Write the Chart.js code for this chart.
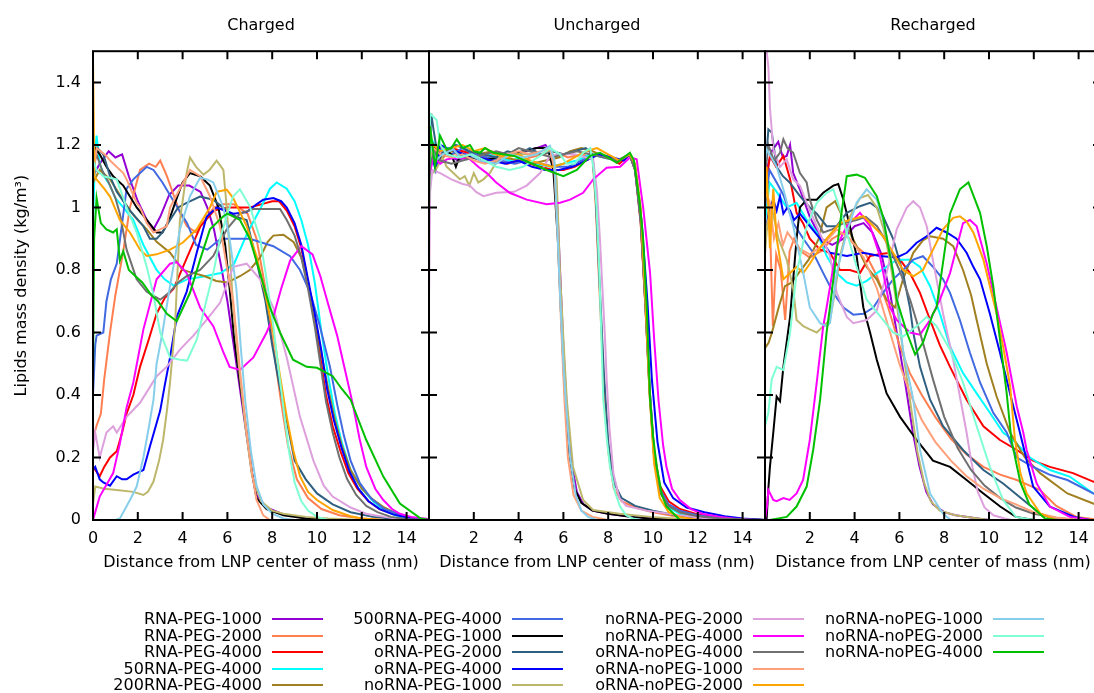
<!DOCTYPE html>
<html>
<head>
<meta charset="utf-8">
<title>Lipids mass density profiles</title>
<script src="https://cdn.jsdelivr.net/npm/chart.js@4.4.1/dist/chart.umd.min.js"></script>
<style>
  body { margin: 0; width: 1094px; height: 693px; overflow: hidden; background: #fff; position: relative;
         font-family: "DejaVu Sans", sans-serif; }
  canvas { position: absolute; top: 0; }
  #legend { position: absolute; left: 0; top: 0; width: 1094px; height: 693px; }
  #legend .name { position: absolute; left: 0; text-align: right; font-size: 16px; line-height: 18px; color: #000; white-space: nowrap; }
  #legend .swatch { position: absolute; height: 2px; width: 51px; }
</style>
</head>
<body>
<canvas id="charged" width="440" height="600" style="left:0px"></canvas>
<canvas id="uncharged" width="360" height="600" style="left:420px"></canvas>
<canvas id="recharged" width="360" height="600" style="left:756px"></canvas>
<div id="legend"></div>
<script>
// series, in plotting order
const seriesNames = [
  "RNA-PEG-1000", "RNA-PEG-2000", "RNA-PEG-4000", "50RNA-PEG-4000", "200RNA-PEG-4000",
  "500RNA-PEG-4000", "oRNA-PEG-1000", "oRNA-PEG-2000", "oRNA-PEG-4000", "noRNA-PEG-1000",
  "noRNA-PEG-2000", "noRNA-PEG-4000", "oRNA-noPEG-4000", "oRNA-noPEG-1000", "oRNA-noPEG-2000",
  "noRNA-noPEG-1000", "noRNA-noPEG-2000", "noRNA-noPEG-4000"
];
const seriesColors = [
  "#9400d3", "#ff7f50", "#ff0000", "#00ffff", "#a08020",
  "#4169e1", "#000000", "#306080", "#0000ff", "#bdb76b",
  "#dda0dd", "#ff00ff", "#707070", "#ffa07a", "#ffa500",
  "#87ceeb", "#7fffd4", "#00c000"
];

const panelTitles = ["Charged", "Uncharged", "Recharged"];
const xTicksFirst = [0, 2, 4, 6, 8, 10, 12, 14];
const xTicksOther = [2, 4, 6, 8, 10, 12, 14];
const yTicks = [0, 0.2, 0.4, 0.6, 0.8, 1.0, 1.2, 1.4];

// [distance nm, density kg/m3] per series
const charged = [
  [[0,1.10],[0.3,1.14],[0.7,1.18],[1.0,1.16],[1.3,1.17],[1.6,1.10],[2.0,1.02],[2.4,0.96],[2.7,0.93],[3.0,0.97],[3.4,1.04],[3.8,1.07],[4.3,1.07],[4.8,1.05],[5.1,1.00],[5.4,0.93],[5.7,0.82],[6.0,0.70],[6.3,0.55],[6.56,0.42],[6.86,0.27],[7.1,0.15],[7.3,0.08],[7.75,0.04],[8.5,0.018],[9.5,0.006],[11,0],[15,0]],
  [[0,0.26],[0.15,0.30],[0.35,0.34],[0.5,0.45],[0.76,0.60],[1.0,0.72],[1.35,0.86],[1.65,1.00],[2.1,1.12],[2.5,1.14],[2.8,1.13],[3.0,1.15],[3.3,1.10],[3.6,1.04],[3.9,0.98],[4.2,0.94],[4.6,0.92],[5.0,0.96],[5.4,1.00],[5.8,1.01],[6.3,1.01],[6.9,0.98],[7.3,0.90],[7.7,0.74],[8.0,0.58],[8.35,0.40],[8.7,0.24],[9.1,0.13],[9.6,0.07],[10.2,0.035],[11,0.015],[12,0.005],[13,0],[15,0]],
  [[0,0.17],[0.3,0.14],[0.5,0.17],[0.76,0.20],[1.06,0.22],[1.3,0.28],[1.5,0.34],[1.8,0.40],[2.1,0.49],[2.5,0.58],[2.84,0.66],[3.2,0.71],[3.6,0.74],[4.2,0.84],[4.8,0.94],[5.4,0.99],[6.0,1.00],[6.6,1.00],[7.0,1.00],[7.5,1.01],[8.0,1.02],[8.3,1.02],[8.65,0.99],[9.0,0.94],[9.3,0.87],[9.6,0.76],[9.9,0.64],[10.15,0.52],[10.4,0.40],[10.7,0.30],[11.05,0.22],[11.4,0.15],[11.8,0.10],[12.3,0.06],[12.8,0.035],[13.4,0.018],[14,0.008],[15,0]],
  [[0,0.95],[0.1,1.18],[0.16,1.23],[0.3,1.14],[0.5,1.10],[0.76,1.07],[1.0,1.03],[1.35,1.00],[1.8,0.96],[2.25,0.88],[2.84,0.80],[3.2,0.77],[3.6,0.75],[4.2,0.77],[5.0,0.78],[5.7,0.79],[6.3,0.82],[6.9,0.92],[7.5,1.00],[7.9,1.06],[8.2,1.08],[8.65,1.06],[9.0,1.02],[9.3,0.96],[9.6,0.88],[9.9,0.76],[10.2,0.60],[10.5,0.46],[10.8,0.34],[11.1,0.25],[11.5,0.16],[12.0,0.10],[12.5,0.06],[13.0,0.03],[13.5,0.015],[14,0.005],[15,0]],
  [[0,1.08],[0.3,1.12],[0.76,1.09],[1.2,1.04],[1.65,0.99],[2.0,0.96],[2.4,0.93],[2.84,0.89],[3.44,0.855],[4.0,0.80],[4.5,0.79],[5.0,0.78],[5.5,0.765],[6.0,0.76],[6.56,0.78],[7.0,0.80],[7.46,0.84],[7.8,0.89],[8.05,0.91],[8.5,0.913],[8.95,0.89],[9.3,0.84],[9.6,0.76],[9.9,0.65],[10.2,0.53],[10.5,0.42],[10.8,0.32],[11.1,0.24],[11.5,0.16],[12.0,0.10],[12.5,0.065],[13.0,0.04],[13.5,0.022],[14,0.01],[15,0]],
  [[0,0.40],[0.1,0.56],[0.16,0.59],[0.46,0.60],[0.6,0.70],[0.8,0.77],[1.06,0.82],[1.3,0.95],[1.5,1.06],[1.8,1.09],[2.1,1.11],[2.4,1.13],[2.7,1.12],[3.1,1.08],[3.6,1.02],[4.2,0.95],[4.6,0.88],[5.1,0.865],[5.7,0.90],[6.3,0.90],[7.0,0.90],[8.05,0.876],[8.8,0.844],[9.24,0.80],[9.7,0.727],[10.13,0.62],[10.58,0.49],[10.9,0.37],[11.2,0.27],[11.5,0.19],[11.9,0.12],[12.4,0.07],[13.0,0.035],[14,0.01],[15,0]],
  [[0,1.20],[0.3,1.17],[0.6,1.13],[0.9,1.10],[1.35,1.07],[1.95,1.00],[2.4,0.96],[2.84,0.92],[3.1,0.92],[3.4,0.96],[3.74,1.03],[4.0,1.08],[4.33,1.11],[4.78,1.10],[5.22,1.07],[5.6,1.00],[5.9,0.88],[6.1,0.74],[6.3,0.58],[6.56,0.44],[6.86,0.28],[7.1,0.15],[7.3,0.07],[7.75,0.035],[8.5,0.015],[9.5,0.005],[11,0],[15,0]],
  [[0,1.15],[0.2,1.19],[0.46,1.17],[0.76,1.10],[1.06,1.05],[1.65,0.99],[2.25,0.94],[2.54,0.90],[2.84,0.90],[3.1,0.92],[3.44,0.96],[3.8,1.00],[4.18,1.015],[4.78,1.035],[5.37,1.025],[5.97,0.99],[6.4,0.97],[6.86,0.96],[7.3,0.83],[7.7,0.70],[8.0,0.56],[8.3,0.44],[8.7,0.30],[9.0,0.19],[9.5,0.13],[10.0,0.085],[10.7,0.05],[11.5,0.025],[12.5,0.01],[14,0],[15,0]],
  [[0,0.16],[0.1,0.17],[0.3,0.13],[0.46,0.12],[0.76,0.11],[1.06,0.14],[1.3,0.13],[1.5,0.13],[1.8,0.145],[2.25,0.16],[2.54,0.235],[2.8,0.30],[3.0,0.35],[3.2,0.43],[3.44,0.52],[3.74,0.65],[4.18,0.73],[4.63,0.855],[5.07,0.97],[5.52,1.00],[6.26,0.98],[6.86,0.985],[7.3,1.01],[7.6,1.025],[8.05,1.03],[8.4,1.02],[8.65,1.00],[9.0,0.95],[9.3,0.88],[9.6,0.77],[9.9,0.66],[10.2,0.54],[10.45,0.42],[10.75,0.32],[11.1,0.23],[11.45,0.155],[11.85,0.10],[12.3,0.06],[12.8,0.035],[13.4,0.018],[14,0.008],[15,0]],
  [[0,0.05],[0.1,0.107],[0.5,0.10],[1.06,0.096],[1.8,0.09],[2.25,0.08],[2.45,0.09],[2.7,0.123],[2.95,0.19],[3.13,0.256],[3.3,0.35],[3.44,0.44],[3.66,0.62],[3.88,0.96],[4.18,1.11],[4.33,1.16],[4.6,1.13],[4.93,1.105],[5.2,1.12],[5.52,1.15],[5.82,1.12],[5.97,1.00],[6.1,0.86],[6.26,0.68],[6.5,0.50],[6.8,0.30],[7.1,0.14],[7.5,0.06],[8.0,0.03],[8.5,0.02],[9.5,0.01],[10.5,0.005],[12,0],[15,0]],
  [[0,0.22],[0.1,0.28],[0.3,0.20],[0.6,0.28],[0.9,0.30],[1.06,0.28],[1.5,0.33],[2.1,0.375],[2.84,0.46],[3.29,0.49],[3.88,0.545],[4.48,0.59],[5.07,0.64],[5.67,0.695],[6.0,0.76],[6.26,0.81],[6.86,0.82],[7.46,0.77],[8.05,0.68],[8.65,0.52],[9.24,0.33],[9.84,0.19],[10.3,0.11],[10.7,0.075],[11.5,0.04],[12.2,0.02],[13,0.01],[14,0],[15,0]],
  [[0,0],[0.3,0.075],[0.9,0.15],[1.2,0.245],[1.5,0.36],[1.8,0.44],[2.25,0.61],[2.84,0.77],[3.44,0.82],[3.74,0.825],[4.18,0.79],[4.78,0.68],[5.37,0.62],[5.8,0.54],[6.1,0.49],[6.56,0.48],[7.16,0.52],[7.75,0.60],[8.05,0.65],[8.4,0.74],[8.8,0.83],[9.3,0.876],[9.8,0.85],[10.15,0.78],[10.5,0.69],[10.9,0.59],[11.25,0.48],[11.6,0.37],[11.9,0.26],[12.2,0.17],[12.6,0.10],[12.96,0.064],[13.35,0.035],[13.7,0.02],[14.2,0.01],[15,0.003]],
  [[0,1.12],[0.16,1.17],[0.4,1.12],[0.7,1.08],[1.0,1.03],[1.2,0.98],[1.5,0.865],[1.95,0.77],[2.4,0.73],[3.0,0.705],[3.44,0.73],[3.8,0.76],[4.18,0.78],[4.78,0.80],[5.37,0.845],[5.97,0.93],[6.56,0.98],[7.16,0.995],[8.35,0.995],[8.65,0.96],[9.0,0.91],[9.3,0.84],[9.6,0.74],[9.9,0.62],[10.15,0.50],[10.4,0.38],[10.7,0.28],[11.0,0.20],[11.35,0.13],[11.75,0.08],[12.2,0.045],[12.7,0.025],[13.3,0.01],[14,0.003],[15,0]],
  [[0,1.10],[0.16,1.19],[0.6,1.165],[0.76,1.15],[1.35,1.11],[1.5,1.09],[1.95,1.015],[2.1,1.00],[2.4,0.95],[2.7,0.92],[3.0,0.93],[3.29,0.94],[3.44,1.00],[3.88,1.06],[4.33,1.12],[4.78,1.10],[5.22,1.036],[5.67,0.94],[6.0,0.80],[6.26,0.70],[6.56,0.48],[6.86,0.28],[7.1,0.15],[7.3,0.064],[7.6,0.015],[7.9,0],[15,0]],
  [[0,1.48],[0.06,1.10],[0.16,1.09],[0.5,1.06],[0.76,1.035],[1.2,0.96],[1.65,0.92],[2.1,0.865],[2.4,0.845],[2.84,0.85],[3.44,0.865],[4.0,0.887],[4.63,0.93],[5.22,1.00],[5.52,1.05],[5.97,1.057],[6.26,1.03],[6.86,0.94],[7.3,0.845],[7.7,0.72],[8.05,0.60],[8.35,0.46],[8.65,0.33],[8.95,0.22],[9.24,0.14],[9.6,0.09],[10.0,0.064],[10.7,0.032],[11.5,0.012],[12,0.005],[13,0],[15,0]],
  [[0,0],[1.0,0],[1.2,0.005],[1.65,0.064],[1.95,0.107],[2.25,0.20],[2.5,0.30],[2.7,0.385],[2.84,0.50],[3.1,0.60],[3.44,0.75],[3.88,0.93],[4.33,1.036],[4.78,1.095],[5.1,1.09],[5.37,1.08],[5.82,1.00],[6.1,0.90],[6.4,0.74],[6.6,0.55],[6.8,0.38],[7.05,0.22],[7.3,0.11],[7.6,0.05],[8.0,0.02],[8.5,0.005],[9,0],[15,0]],
  [[0,1.15],[0.16,1.12],[0.46,1.10],[1.06,1.09],[1.5,1.00],[1.95,0.92],[2.4,0.81],[2.7,0.72],[3.0,0.60],[3.44,0.52],[3.88,0.513],[4.2,0.51],[4.63,0.577],[5.07,0.705],[5.4,0.80],[5.67,0.90],[6.0,0.98],[6.26,1.036],[6.56,1.058],[7.0,1.004],[7.46,0.90],[7.75,0.77],[8.05,0.62],[8.27,0.49],[8.5,0.36],[8.75,0.22],[9.0,0.12],[9.3,0.06],[9.6,0.03],[10,0.01],[10.5,0],[15,0]],
  [[0,0.45],[0.05,0.90],[0.16,1.03],[0.35,0.95],[0.6,0.93],[0.9,0.92],[1.06,0.93],[1.2,0.83],[1.35,0.86],[1.6,0.80],[1.9,0.78],[2.2,0.76],[2.6,0.72],[2.9,0.70],[3.3,0.66],[3.74,0.636],[4.33,0.727],[4.78,0.833],[5.22,0.93],[5.82,0.972],[6.0,0.98],[6.56,0.96],[7.0,0.90],[7.46,0.79],[7.9,0.68],[8.35,0.60],[8.93,0.513],[9.54,0.49],[10.0,0.487],[10.7,0.46],[11.1,0.42],[11.5,0.385],[12.2,0.256],[12.96,0.139],[13.7,0.053],[14.6,0.006],[15,0]]
];

const uncharged = [
  [[0,1.10],[0.15,1.20],[0.4,1.15],[0.8,1.17],[1.3,1.15],[1.8,1.17],[2.3,1.15],[2.8,1.14],[3.3,1.16],[3.8,1.17],[4.3,1.18],[4.8,1.19],[5.2,1.20],[5.5,1.17],[5.7,1.05],[5.85,0.80],[6.0,0.55],[6.15,0.36],[6.35,0.19],[6.6,0.09],[6.9,0.05],[7.3,0.03],[8,0.02],[9,0.01],[10,0.005],[11,0],[15,0]],
  [[0,1.20],[0.2,1.17],[0.6,1.19],[1.0,1.17],[1.6,1.18],[2.2,1.16],[2.8,1.17],[3.3,1.16],[3.9,1.14],[4.5,1.16],[5.1,1.17],[5.6,1.18],[6.2,1.16],[6.8,1.17],[7.3,1.16],[7.45,1.00],[7.6,0.75],[7.8,0.45],[8.0,0.22],[8.25,0.10],[8.6,0.06],[9.2,0.04],[10,0.025],[11,0.012],[12.5,0.004],[14,0],[15,0]],
  [[0,1.15],[0.2,1.20],[0.5,1.17],[1.0,1.19],[1.5,1.18],[2.0,1.17],[2.5,1.16],[3.0,1.15],[3.5,1.14],[4.0,1.15],[4.5,1.14],[5.0,1.13],[5.5,1.12],[6.0,1.12],[6.5,1.13],[7.0,1.15],[7.5,1.17],[8.0,1.16],[8.5,1.14],[8.95,1.17],[9.2,1.12],[9.45,0.95],[9.65,0.70],[9.85,0.42],[10.05,0.22],[10.3,0.11],[10.7,0.06],[11.2,0.035],[12,0.018],[13,0.008],[14,0.003],[15,0]],
  [[0,1.12],[0.1,1.22],[0.4,1.18],[0.9,1.19],[1.4,1.20],[2.0,1.18],[2.6,1.17],[3.1,1.16],[3.6,1.15],[4.2,1.16],[4.8,1.14],[5.4,1.13],[6.0,1.14],[6.6,1.15],[7.2,1.17],[7.8,1.16],[8.4,1.15],[8.95,1.17],[9.2,1.13],[9.45,0.98],[9.65,0.72],[9.85,0.42],[10.05,0.20],[10.3,0.09],[10.7,0.04],[11.2,0.02],[12,0.01],[13,0.004],[15,0]],
  [[0,1.10],[0.2,1.18],[0.6,1.16],[1.0,1.18],[1.6,1.16],[2.2,1.17],[2.8,1.18],[3.4,1.16],[4.0,1.15],[4.6,1.14],[5.2,1.15],[5.8,1.16],[6.3,1.18],[6.8,1.19],[7.3,1.18],[7.9,1.16],[8.4,1.15],[8.95,1.17],[9.2,1.12],[9.45,0.96],[9.65,0.70],[9.85,0.40],[10.05,0.20],[10.3,0.09],[10.7,0.045],[11.2,0.025],[12,0.012],[13,0.005],[15,0]],
  [[0,1.15],[0.2,1.20],[0.5,1.18],[1.0,1.17],[1.5,1.19],[2.0,1.17],[2.6,1.16],[3.2,1.15],[3.8,1.14],[4.4,1.15],[5.0,1.14],[5.6,1.13],[6.2,1.13],[6.8,1.15],[7.4,1.17],[8.0,1.16],[8.5,1.15],[8.95,1.17],[9.2,1.12],[9.45,0.96],[9.65,0.71],[9.85,0.42],[10.05,0.21],[10.3,0.10],[10.7,0.05],[11.2,0.03],[12,0.015],[13,0.006],[15,0]],
  [[0,1.12],[0.2,1.20],[0.5,1.16],[0.8,1.18],[1.0,1.17],[1.2,1.13],[1.4,1.17],[1.9,1.16],[2.5,1.15],[3.0,1.16],[3.6,1.17],[4.2,1.18],[4.8,1.19],[5.3,1.19],[5.55,1.12],[5.75,0.90],[5.9,0.65],[6.05,0.42],[6.25,0.22],[6.5,0.10],[6.8,0.055],[7.3,0.03],[8,0.02],[9,0.01],[10,0.004],[11,0],[15,0]],
  [[0,1.15],[0.1,1.30],[0.2,1.25],[0.4,1.16],[0.7,1.18],[1.2,1.20],[1.8,1.18],[2.4,1.17],[3.0,1.16],[3.5,1.18],[4.0,1.17],[4.5,1.19],[5.0,1.17],[5.5,1.18],[6.0,1.17],[6.5,1.18],[7.0,1.19],[7.3,1.17],[7.45,1.02],[7.6,0.78],[7.8,0.48],[8.0,0.25],[8.25,0.12],[8.6,0.07],[9.2,0.045],[10,0.03],[11,0.015],[12.5,0.005],[14,0],[15,0]],
  [[0,1.08],[0.1,1.17],[0.3,1.12],[0.5,1.20],[0.8,1.19],[1.2,1.18],[1.6,1.17],[2.2,1.16],[2.8,1.15],[3.4,1.14],[4.0,1.15],[4.6,1.13],[5.2,1.12],[5.8,1.12],[6.4,1.13],[7.0,1.15],[7.6,1.17],[8.2,1.16],[8.7,1.15],[8.95,1.17],[9.2,1.13],[9.5,0.95],[9.75,0.70],[9.95,0.45],[10.2,0.25],[10.5,0.12],[10.9,0.07],[11.5,0.04],[12.3,0.025],[13.2,0.012],[14,0.005],[15,0]],
  [[0,1.10],[0.3,1.12],[0.6,1.16],[0.79,1.13],[1.09,1.11],[1.38,1.09],[1.6,1.10],[1.8,1.07],[2.0,1.11],[2.2,1.08],[2.43,1.09],[2.72,1.11],[3.17,1.165],[3.8,1.17],[4.4,1.17],[5.0,1.17],[5.48,1.186],[5.6,1.14],[5.7,1.09],[5.85,0.79],[6.0,0.58],[6.15,0.385],[6.43,0.17],[6.88,0.064],[7.33,0.032],[8.5,0.02],[9.9,0.01],[12,0],[15,0]],
  [[0,0.70],[0.05,1.05],[0.15,1.12],[0.5,1.11],[1.0,1.09],[1.5,1.075],[1.83,1.07],[2.1,1.05],[2.43,1.036],[3.0,1.047],[3.8,1.05],[4.36,1.07],[4.96,1.11],[5.4,1.165],[5.85,1.17],[6.5,1.17],[7.0,1.16],[7.33,1.154],[7.5,1.05],[7.63,0.90],[7.86,0.577],[7.93,0.45],[8.05,0.30],[8.23,0.15],[8.5,0.07],[8.8,0.045],[9.7,0.03],[11.2,0.015],[13,0],[15,0]],
  [[0,1.10],[0.2,1.16],[0.5,1.14],[0.79,1.154],[1.3,1.16],[1.83,1.154],[2.2,1.13],[2.58,1.11],[3.0,1.08],[3.6,1.047],[4.36,1.025],[5.25,1.01],[5.85,1.015],[6.3,1.025],[6.88,1.047],[7.33,1.09],[7.93,1.127],[8.53,1.13],[8.97,1.16],[9.27,1.154],[9.56,1.00],[9.87,0.79],[10.05,0.58],[10.25,0.38],[10.45,0.24],[10.6,0.17],[10.85,0.10],[11.2,0.064],[11.7,0.035],[12.2,0.02],[13,0.01],[13.6,0.005],[14.5,0],[15,0]],
  [[0,1.12],[0.2,1.18],[0.5,1.15],[1.0,1.14],[1.5,1.15],[2.0,1.16],[2.5,1.17],[3.0,1.18],[3.5,1.17],[4.0,1.19],[4.5,1.18],[5.0,1.17],[5.5,1.16],[6.0,1.17],[6.6,1.18],[7.2,1.17],[7.8,1.16],[8.4,1.15],[8.95,1.17],[9.2,1.12],[9.45,0.96],[9.65,0.70],[9.85,0.41],[10.05,0.20],[10.3,0.09],[10.7,0.045],[11.2,0.025],[12,0.012],[13,0.005],[15,0]],
  [[0,1.15],[0.2,1.19],[0.5,1.17],[1.0,1.16],[1.5,1.17],[2.0,1.15],[2.5,1.14],[3.0,1.15],[3.5,1.17],[4.0,1.18],[4.5,1.17],[5.0,1.18],[5.4,1.19],[5.6,1.12],[5.75,0.90],[5.9,0.62],[6.05,0.38],[6.2,0.20],[6.45,0.08],[6.8,0.03],[7.3,0.01],[8,0],[15,0]],
  [[0,1.15],[0.2,1.20],[0.5,1.18],[1.0,1.19],[1.5,1.20],[2.0,1.18],[2.5,1.19],[3.0,1.17],[3.5,1.16],[4.0,1.17],[4.5,1.15],[5.0,1.14],[5.5,1.13],[6.0,1.14],[6.5,1.16],[7.0,1.18],[7.5,1.19],[8.0,1.17],[8.5,1.15],[8.95,1.17],[9.2,1.14],[9.45,1.00],[9.65,0.72],[9.85,0.40],[10.05,0.18],[10.3,0.07],[10.7,0.025],[11.2,0.01],[12,0],[15,0]],
  [[0,1.12],[0.1,1.20],[0.3,1.15],[0.6,1.17],[1.09,1.186],[1.4,1.16],[1.8,1.17],[2.3,1.15],[3.0,1.14],[3.6,1.17],[4.2,1.16],[4.8,1.17],[5.4,1.197],[5.6,1.15],[5.72,0.95],[5.85,0.72],[6.0,0.50],[6.1,0.385],[6.3,0.20],[6.55,0.08],[6.8,0.03],[7.1,0.01],[7.5,0],[15,0]],
  [[0,1.15],[0.05,1.30],[0.34,1.28],[0.5,1.20],[0.8,1.17],[1.3,1.16],[1.9,1.17],[2.5,1.15],[3.0,1.13],[3.6,1.12],[4.2,1.13],[4.96,1.165],[5.4,1.19],[5.85,1.17],[6.15,1.14],[6.5,1.14],[6.88,1.175],[7.2,1.19],[7.35,1.12],[7.48,1.00],[7.6,0.80],[7.7,0.577],[7.78,0.385],[7.95,0.25],[8.08,0.17],[8.3,0.09],[8.53,0.043],[8.8,0.015],[9.1,0.005],[9.5,0],[15,0]],
  [[0,1.00],[0.05,1.26],[0.27,1.13],[0.49,1.23],[0.79,1.186],[1.0,1.19],[1.24,1.218],[1.5,1.19],[1.83,1.20],[2.0,1.18],[2.28,1.175],[2.5,1.19],[2.87,1.175],[3.3,1.17],[3.8,1.165],[4.5,1.143],[5.25,1.12],[6.0,1.10],[6.6,1.12],[7.19,1.165],[7.63,1.175],[8.0,1.16],[8.38,1.143],[8.97,1.175],[9.15,1.15],[9.4,1.02],[9.56,0.90],[9.72,0.68],[9.87,0.385],[10.0,0.27],[10.17,0.17],[10.4,0.08],[10.6,0.043],[11.2,0],[15,0]]
];

const recharged = [
  [[0,1.10],[0.3,1.18],[0.59,1.21],[0.8,1.16],[0.97,1.165],[1.12,1.20],[1.26,1.11],[1.6,1.05],[2.0,0.97],[2.5,0.90],[3.0,0.88],[3.5,0.90],[4.0,0.94],[4.4,0.95],[4.8,0.92],[5.2,0.85],[5.6,0.72],[6.0,0.55],[6.3,0.42],[6.6,0.28],[6.9,0.17],[7.2,0.09],[7.5,0.05],[8.0,0.025],[8.5,0.015],[9.5,0.005],[10,0],[15,0]],
  [[0,0.90],[0.2,1.00],[0.35,0.62],[0.5,0.85],[0.7,0.80],[0.9,0.64],[1.1,0.86],[1.3,0.90],[1.6,0.86],[2.0,0.84],[2.5,0.86],[3.0,0.90],[3.5,0.92],[4.0,0.88],[4.5,0.85],[5.0,0.78],[5.5,0.68],[6.0,0.56],[6.47,0.47],[7.0,0.40],[7.6,0.33],[8.3,0.26],[9.0,0.21],[9.75,0.17],[10.5,0.145],[11.24,0.128],[12.28,0.096],[13.0,0.045],[13.9,0.01],[15,0]],
  [[0,1.05],[0.22,1.165],[0.5,1.13],[0.82,1.165],[1.12,1.09],[1.41,0.983],[1.7,0.95],[2.0,0.90],[2.46,0.865],[2.9,0.855],[3.35,0.80],[3.79,0.80],[4.24,0.79],[4.69,0.845],[5.1,0.85],[5.58,0.855],[6.03,0.833],[6.47,0.79],[6.92,0.727],[7.37,0.64],[7.8,0.56],[8.26,0.49],[9.0,0.385],[9.75,0.30],[10.49,0.256],[11.24,0.224],[11.97,0.19],[12.72,0.17],[13.75,0.15],[14.65,0.123],[15,0.115]],
  [[0,0.95],[0.2,1.08],[0.52,1.05],[0.97,1.00],[1.41,1.015],[1.86,0.96],[2.31,0.92],[2.75,0.845],[3.2,0.79],[3.65,0.76],[4.09,0.75],[4.54,0.765],[4.99,0.79],[5.43,0.81],[5.88,0.833],[6.47,0.833],[6.92,0.81],[7.37,0.748],[7.81,0.66],[8.26,0.555],[8.84,0.47],[9.45,0.405],[10.04,0.343],[10.63,0.28],[11.07,0.256],[11.83,0.20],[12.72,0.16],[13.6,0.139],[14.65,0.085],[15,0.075]],
  [[0,0.55],[0.16,0.567],[0.31,0.60],[0.61,0.68],[0.89,0.748],[1.2,0.76],[1.5,0.79],[1.95,0.833],[2.4,0.90],[2.75,1.00],[3.13,1.02],[3.4,0.98],[3.65,0.94],[4.09,0.876],[4.54,0.81],[4.99,0.77],[5.43,0.705],[5.8,0.68],[6.16,0.77],[6.62,0.855],[7.05,0.895],[7.37,0.908],[7.95,0.90],[8.4,0.876],[8.84,0.80],[9.2,0.72],[9.45,0.64],[9.9,0.50],[10.34,0.395],[10.94,0.28],[11.6,0.20],[12.28,0.15],[13.5,0.085],[14.65,0.053],[15,0.045]],
  [[0,1.00],[0.2,1.12],[0.52,1.08],[0.82,1.04],[1.26,0.95],[1.71,0.90],[2.15,0.855],[2.6,0.79],[3.05,0.727],[3.5,0.68],[3.94,0.657],[4.39,0.66],[4.84,0.68],[5.27,0.727],[5.72,0.77],[6.16,0.80],[6.62,0.833],[7.05,0.844],[7.5,0.81],[7.95,0.77],[8.26,0.727],[8.7,0.64],[9.15,0.535],[9.6,0.44],[10.19,0.343],[10.79,0.28],[11.24,0.20],[11.97,0.17],[12.7,0.145],[13.5,0.128],[14.65,0.085],[15,0.075]],
  [[0,0],[0.07,0],[0.15,0.10],[0.22,0.17],[0.37,0.28],[0.52,0.395],[0.67,0.38],[0.82,0.49],[1.12,0.65],[1.41,0.90],[1.56,1.00],[1.86,1.025],[2.31,1.025],[2.6,1.047],[3.05,1.07],[3.27,1.075],[3.5,1.025],[3.79,0.94],[4.09,0.845],[4.39,0.68],[4.69,0.60],[4.99,0.513],[5.43,0.405],[6.03,0.33],[6.77,0.256],[7.5,0.19],[8.26,0.17],[9.0,0.128],[9.75,0.085],[10.5,0.043],[11.2,0.01],[12,0],[15,0]],
  [[0,1.10],[0.15,1.25],[0.3,1.24],[0.52,1.13],[0.8,1.10],[1.1,1.08],[1.56,1.036],[2.0,1.00],[2.31,0.98],[2.75,0.94],[3.2,0.94],[3.65,0.983],[4.24,1.004],[4.69,1.015],[4.99,1.00],[5.27,0.972],[5.72,0.90],[6.16,0.79],[6.47,0.68],[6.62,0.60],[6.92,0.49],[7.37,0.385],[7.95,0.30],[8.84,0.224],[9.75,0.16],[10.63,0.117],[11.53,0.064],[12.28,0.02],[13,0],[15,0]],
  [[0,0.90],[0.2,1.00],[0.37,1.025],[0.52,0.99],[0.67,1.036],[0.82,0.98],[1.0,1.00],[1.12,0.99],[1.3,0.96],[1.56,0.98],[2.0,0.94],[2.46,0.90],[2.9,0.855],[3.65,0.845],[4.39,0.855],[5.13,0.845],[5.88,0.84],[6.33,0.855],[6.77,0.887],[7.22,0.908],[7.66,0.935],[8.11,0.92],[8.55,0.90],[9.0,0.855],[9.3,0.81],[9.6,0.77],[10.04,0.66],[10.49,0.535],[10.94,0.405],[11.38,0.28],[11.97,0.107],[12.72,0.043],[13.8,0.01],[14.5,0],[15,0]],
  [[0,0.85],[0.1,0.95],[0.3,1.00],[0.6,0.90],[0.97,0.833],[1.26,0.74],[1.41,0.64],[1.71,0.62],[2.0,0.61],[2.31,0.60],[2.6,0.62],[2.9,0.64],[3.1,0.72],[3.35,0.844],[3.79,0.97],[4.24,1.03],[4.6,1.04],[4.99,1.00],[5.3,0.93],[5.6,0.82],[5.9,0.68],[6.2,0.52],[6.5,0.37],[6.8,0.22],[7.1,0.12],[7.4,0.06],[7.8,0.03],[8.5,0.015],[9.5,0.005],[10,0],[15,0]],
  [[0,1.55],[0.15,1.45],[0.22,1.32],[0.37,1.186],[0.67,1.13],[0.97,1.154],[1.26,1.09],[1.56,1.07],[1.86,1.015],[2.31,0.94],[2.9,0.845],[3.2,0.727],[3.65,0.65],[3.94,0.63],[4.54,0.64],[4.99,0.67],[5.43,0.79],[5.88,0.93],[6.33,1.00],[6.62,1.02],[6.92,1.00],[7.22,0.94],[7.5,0.83],[7.95,0.66],[8.4,0.513],[8.7,0.395],[9.0,0.28],[9.2,0.19],[9.5,0.09],[9.8,0.04],[10.2,0.015],[10.7,0.005],[11,0],[15,0]],
  [[0,0],[0.1,0.05],[0.15,0.096],[0.37,0.064],[0.52,0.06],[0.82,0.07],[1.1,0.064],[1.41,0.085],[1.7,0.128],[2.0,0.256],[2.31,0.44],[2.6,0.62],[2.75,0.68],[3.2,0.876],[3.65,0.94],[4.24,0.983],[4.69,0.94],[5.13,0.845],[5.58,0.68],[5.88,0.64],[6.47,0.60],[6.92,0.593],[7.37,0.64],[7.81,0.705],[8.26,0.79],[8.84,0.95],[9.15,0.96],[9.45,0.94],[9.9,0.82],[10.34,0.68],[10.79,0.535],[11.24,0.363],[11.53,0.28],[11.68,0.224],[12.13,0.117],[12.72,0.043],[13.6,0.01],[14.5,0],[15,0]],
  [[0,1.10],[0.15,1.20],[0.4,1.15],[0.67,1.175],[0.82,1.218],[1.0,1.19],[1.26,1.175],[1.56,1.11],[1.86,1.08],[2.0,1.025],[2.31,0.96],[2.6,0.92],[3.0,0.93],[3.5,0.95],[4.09,0.96],[4.5,0.97],[5.0,0.94],[5.5,0.88],[6.0,0.80],[6.5,0.70],[7.0,0.58],[7.5,0.45],[8.0,0.33],[8.6,0.23],[9.2,0.16],[9.8,0.11],[10.5,0.07],[11.2,0.04],[12,0.02],[13,0.007],[14,0],[15,0]],
  [[0,1.05],[0.2,1.02],[0.4,0.90],[0.6,0.95],[0.8,0.88],[1.0,0.92],[1.5,0.87],[2.0,0.85],[2.6,0.88],[3.2,0.93],[3.8,0.90],[4.4,0.84],[5.0,0.74],[5.5,0.62],[6.0,0.50],[6.5,0.40],[7.0,0.32],[7.6,0.25],[8.3,0.19],[9.0,0.14],[9.75,0.10],[10.5,0.07],[11.2,0.05],[12,0.025],[13,0.008],[14,0],[15,0]],
  [[0,1.00],[0.07,1.13],[0.22,0.87],[0.37,1.06],[0.52,0.90],[0.82,0.77],[1.12,0.79],[1.41,0.81],[1.71,0.79],[2.0,0.82],[2.31,0.855],[2.75,0.90],[3.35,0.95],[3.79,0.96],[4.39,0.972],[4.84,0.94],[5.27,0.908],[5.72,0.855],[6.16,0.80],[6.62,0.78],[7.05,0.80],[7.5,0.865],[7.95,0.93],[8.4,0.967],[8.7,0.972],[9.0,0.955],[9.3,0.92],[9.75,0.833],[10.34,0.66],[10.63,0.555],[10.94,0.43],[11.16,0.256],[11.4,0.15],[11.68,0.085],[12.3,0.02],[13,0],[15,0]],
  [[0,1.15],[0.07,1.186],[0.52,1.13],[0.82,1.058],[1.26,0.94],[1.71,0.79],[2.0,0.68],[2.46,0.63],[2.75,0.62],[2.9,0.63],[3.2,0.79],[3.65,0.92],[4.09,1.015],[4.54,1.058],[4.99,1.025],[5.27,0.96],[5.58,0.855],[5.88,0.727],[6.16,0.545],[6.62,0.385],[6.92,0.224],[7.37,0.085],[7.95,0.02],[8.3,0],[15,0]],
  [[0,0.30],[0.15,0.343],[0.3,0.45],[0.52,0.49],[0.82,0.48],[1.12,0.60],[1.41,0.79],[1.86,0.94],[2.31,1.015],[2.75,1.047],[3.05,1.058],[3.35,0.994],[3.65,0.92],[4.09,0.81],[4.54,0.705],[5.27,0.64],[5.72,0.60],[6.16,0.587],[6.77,0.62],[7.22,0.65],[7.66,0.62],[8.26,0.545],[8.84,0.44],[9.45,0.30],[10.04,0.17],[10.63,0.064],[11.2,0.01],[12,0],[15,0]],
  [[0,0],[0.22,0],[0.97,0.01],[1.41,0.043],[1.86,0.107],[2.15,0.224],[2.46,0.385],[2.75,0.60],[2.9,0.68],[3.35,0.95],[3.65,1.10],[4.09,1.105],[4.46,1.095],[4.99,1.036],[5.27,0.97],[5.72,0.79],[5.88,0.705],[6.33,0.60],[6.7,0.53],[7.05,0.567],[7.5,0.66],[7.66,0.68],[8.26,0.98],[8.7,1.058],[9.08,1.08],[9.6,0.983],[9.9,0.876],[10.19,0.748],[10.49,0.577],[10.79,0.405],[11.0,0.256],[11.4,0.12],[11.8,0.05],[12.5,0.005],[13,0],[15,0]]
];

const FONT = { family: "'DejaVu Sans', sans-serif", size: 16 };

// box around the plot area with inward tick marks on all four sides
const frameTicks = {
  id: 'frameTicks',
  afterDatasetsDraw(chart) {
    const { ctx, chartArea: a, scales: { x, y } } = chart;
    const len = 8;
    ctx.save();
    ctx.strokeStyle = '#000';
    ctx.lineWidth = 2;
    ctx.beginPath();
    x.ticks.forEach(t => {
      const px = x.getPixelForValue(t.value);
      ctx.moveTo(px, a.bottom); ctx.lineTo(px, a.bottom - len);
      ctx.moveTo(px, a.top); ctx.lineTo(px, a.top + len);
    });
    y.ticks.forEach(t => {
      const py = y.getPixelForValue(t.value);
      ctx.moveTo(a.left, py); ctx.lineTo(a.left + len, py);
      ctx.moveTo(a.right, py); ctx.lineTo(a.right - len, py);
    });
    ctx.stroke();
    ctx.strokeRect(a.left, a.top, a.right - a.left, a.bottom - a.top);
    ctx.restore();
  }
};

const fmt = v => String(Number(v.toFixed(2)));

function drawPanel(canvasId, curves, title, xTicks, first) {
  const datasets = curves.map((pts, i) => ({
    label: seriesNames[i],
    data: pts.map(p => ({ x: p[0], y: p[1] })),
    borderColor: seriesColors[i],
    borderWidth: 2,
    pointRadius: 0,
    fill: false,
    order: curves.length - 1 - i
  }));

  new Chart(document.getElementById(canvasId), {
    type: 'line',
    data: { datasets },
    options: {
      responsive: false,
      animation: false,
      events: [],
      layout: { padding: { left: 0, right: first ? 11 : 15, top: 0, bottom: 20 } },
      plugins: {
        legend: { display: false },
        tooltip: { enabled: false },
        title: {
          display: true, text: title, fullSize: false, color: '#000',
          font: { ...FONT, weight: 'normal' }, padding: { top: 16, bottom: 16 }
        }
      },
      scales: {
        x: {
          type: 'linear', min: 0, max: 15,
          afterBuildTicks: s => { s.ticks = xTicks.map(v => ({ value: v })); },
          afterFit: s => { s.height = 60; },
          grid: { display: false, drawTicks: false },
          border: { display: false },
          ticks: { color: '#000', font: FONT, padding: 9, maxRotation: 0, autoSkip: false, callback: fmt },
          title: {
            display: true, text: 'Distance from LNP center of mass (nm)', color: '#000',
            font: FONT, padding: { top: 0, bottom: 8 }
          }
        },
        y: {
          type: 'linear', min: 0, max: 1.5,
          afterBuildTicks: s => { s.ticks = yTicks.map(v => ({ value: v })); },
          afterFit: s => { s.width = first ? 93 : 9; },
          grid: { display: false, drawTicks: false },
          border: { display: false },
          ticks: { display: first, color: '#000', font: FONT, padding: 12, callback: fmt },
          title: {
            display: first, text: 'Lipids mass density (kg/m\u00b3)', color: '#000',
            font: FONT, padding: { top: 12, bottom: 0 }
          }
        }
      }
    },
    plugins: [frameTicks]
  });
}

drawPanel('charged', charged, panelTitles[0], xTicksFirst, true);
drawPanel('uncharged', uncharged, panelTitles[1], xTicksOther, false);
drawPanel('recharged', recharged, panelTitles[2], xTicksOther, false);

// legend: four columns, label right-aligned with a line sample after it
const legend = document.getElementById('legend');
const colRight = [262, 502, 743, 983];
seriesNames.forEach((name, i) => {
  const col = Math.floor(i / 5), row = i % 5;
  const cy = 619 + row * 16.6;
  const label = document.createElement('div');
  label.className = 'name';
  label.style.width = colRight[col] + 'px';
  label.style.top = (cy - 9) + 'px';
  label.textContent = name;
  legend.appendChild(label);
  const line = document.createElement('div');
  line.className = 'swatch';
  line.style.left = (colRight[col] + 10) + 'px';
  line.style.top = (cy - 1) + 'px';
  line.style.background = seriesColors[i];
  legend.appendChild(line);
});
</script>
</body>
</html>
